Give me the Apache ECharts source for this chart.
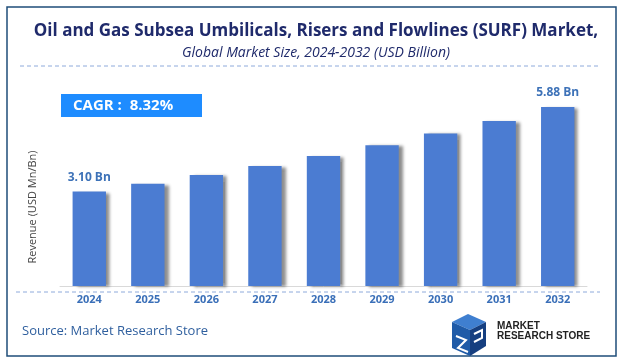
<!DOCTYPE html>
<html><head><meta charset="utf-8">
<script src="https://cdn.jsdelivr.net/npm/echarts@6/dist/echarts.min.js"></script>
<style>html,body{margin:0;padding:0;background:#fff}#c{width:630px;height:364px}</style>
</head><body><div id="c"></div>
<script>
var categories = ['2024','2025','2026','2027','2028','2029','2030','2031','2032'];
var values = [3.10, 3.36, 3.64, 3.94, 4.27, 4.62, 5.01, 5.42, 5.88];
var labelTexts = ['3.10 Bn','','','','','','','','5.88 Bn'];
var titleText = 'Oil and Gas Subsea Umbilicals, Risers and Flowlines (SURF) Market,';
var subtitleText = 'Global Market Size, 2024-2032 (USD Billion)';
var cagrText = 'CAGR :  8.32%';
var yAxisName = 'Revenue (USD Mn/Bn)';
var sourceText = 'Source: Market Research Store';

var chart = echarts.init(document.getElementById('c'), null, {renderer:'canvas'});
var F = '"Open Sans", "Noto Sans", sans-serif';
chart.setOption({
  animation:false,
  backgroundColor:'#fff',
  grid:{left:60, right:43, top:88, bottom:78},
  xAxis:{type:'category', data:categories,
    axisLine:{show:true, lineStyle:{color:'#d9d9d9', width:1}},
    axisTick:{show:false},
    axisLabel:{color:'#3a6fb8', fontWeight:'bold', fontSize:11, fontFamily:F, margin:8}},
  yAxis:{type:'value', min:0, max:6.5, show:false},
  series:[{type:'bar', data:values, barWidth:'57%',
    itemStyle:{color:'#4b7cd2', shadowColor:'rgba(0,0,0,0.45)', shadowBlur:3, shadowOffsetX:4, shadowOffsetY:1},
    label:{show:true, position:'top', distance:8, color:'#3d72b8', fontWeight:'bold', fontSize:12, fontFamily:F,
      formatter:function(p){return labelTexts[p.dataIndex];}}}],
  graphic:[
    {type:'rect', shape:{x:7, y:7, width:609, height:349}, style:{fill:'none', stroke:'#1f4e79', lineWidth:1.5}, silent:true},
    {type:'text', x:316, y:31, style:{text:titleText, fill:'#1f2a6b', font:'bold 17px '+F, textAlign:'center', textVerticalAlign:'middle'}},
    {type:'text', x:316, y:53, style:{text:subtitleText, fill:'#1f2a6b', font:'italic 14px '+F, textAlign:'center', textVerticalAlign:'middle'}},
    {type:'line', shape:{x1:20, y1:66, x2:598, y2:66}, style:{stroke:'#8eaadb', lineWidth:1, lineDash:[4,3]}},
    {type:'line', shape:{x1:16, y1:292, x2:600, y2:292}, style:{stroke:'#8eaadb', lineWidth:1, lineDash:[4,3]}},
    {type:'rect', shape:{x:61, y:94, width:141, height:23}, style:{fill:'#1e8cff'}},
    {type:'text', x:73, y:105.5, style:{text:cagrText, fill:'#fff', font:'bold 15px '+F, textVerticalAlign:'middle'}},
    {type:'text', x:33, y:207, rotation:Math.PI/2, style:{text:yAxisName, fill:'#444', font:'11px '+F, textAlign:'center', textVerticalAlign:'middle'}},
    {type:'text', x:22, y:331, style:{text:sourceText, fill:'#2f5f9e', font:'13px '+F, textVerticalAlign:'middle'}},
    {type:'polygon', shape:{points:[[452,322],[468,314],[486,322],[470,330]]}, style:{fill:'#3f7fd0'}},
    {type:'polygon', shape:{points:[[452,322],[470,330],[470,356],[452,348]]}, style:{fill:'#1f5ba8'}},
    {type:'polygon', shape:{points:[[470,330],[486,322],[486,346],[470,356]]}, style:{fill:'#163f80'}},
    {type:'polyline', shape:{points:[[456,336],[466,340],[458,348],[468,352]]}, style:{stroke:'#fff', lineWidth:2, fill:'none'}},
    {type:'polyline', shape:{points:[[474,334],[482,330],[482,338],[474,342]]}, style:{stroke:'#fff', lineWidth:2, fill:'none'}},
    {type:'text', x:497, y:326, style:{text:'MARKET', fill:'#222', font:'bold 10px "Liberation Sans Narrow", "Liberation Sans", sans-serif', textVerticalAlign:'middle'}},
    {type:'text', x:497, y:336, style:{text:'RESEARCH STORE', fill:'#222', font:'bold 10px "Liberation Sans Narrow", "Liberation Sans", sans-serif', textVerticalAlign:'middle'}}
  ]
});
</script></body></html>
